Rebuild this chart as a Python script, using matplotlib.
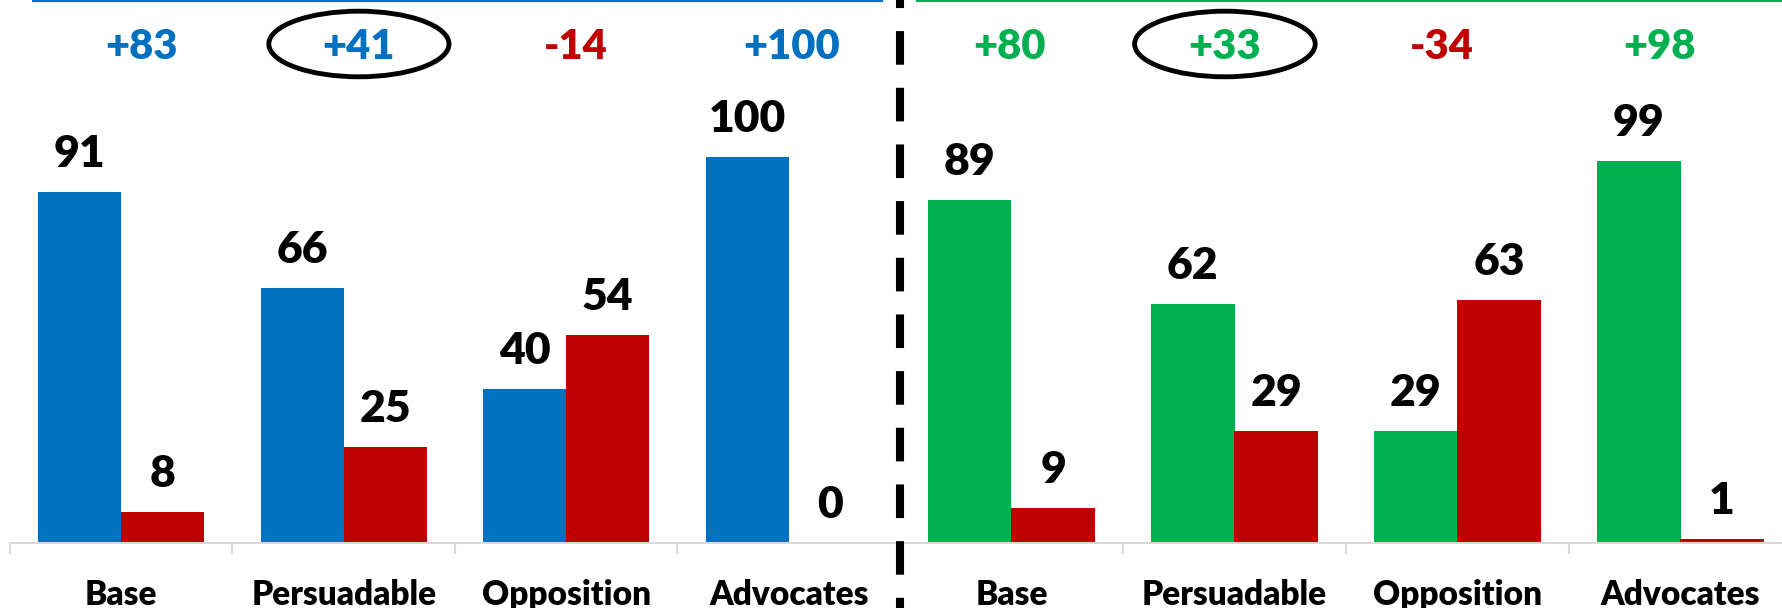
import numpy as np
import matplotlib
matplotlib.use('agg')
import matplotlib.pyplot as plt
from matplotlib.patches import Ellipse
from matplotlib.lines import Line2D

plt.rcParams['font.family'] = ['Lato', 'DejaVu Sans']
plt.rcParams['font.weight'] = 'heavy'
plt.rcParams['lines.scale_dashes'] = False

# data
categories = ['Base', 'Persuadable', 'Opposition', 'Advocates']
left_fav = [91, 66, 40, 100]
left_unfav = [8, 25, 54, 0]
left_diff = [83, 41, -14, 100]
right_fav = [89, 62, 29, 99]
right_unfav = [9, 29, 63, 1]
right_diff = [80, 33, -34, 98]

BLUE = '#0070C0'
RED = '#C00000'
GREEN = '#00B050'
GREY = '#D9D9D9'

W, H = 1783, 608
fig = plt.figure(figsize=(W / 100, H / 100), dpi=100)

bar_w = 0.373
ymax = 140.7
FW = 'heavy'


def draw_panel(ax, fav, unfav, diff, color, nudge, circled):
    x = np.arange(len(categories))
    ax.bar(x - bar_w / 2, fav, bar_w, color=color, zorder=2)
    ax.bar(x + bar_w / 2, unfav, bar_w, color=RED, zorder=2)
    for xi, v in zip(x - bar_w / 2, fav):
        ax.annotate(str(v), (xi, v), xytext=(0, 18), textcoords='offset points',
                    ha='center', va='baseline', fontsize=32, fontweight=FW)
    for xi, v in zip(x + bar_w / 2, unfav):
        ax.annotate(str(v), (xi, v), xytext=(0, 18), textcoords='offset points',
                    ha='center', va='baseline', fontsize=32, fontweight=FW)
    for i, d in enumerate(diff):
        ax.text(i + nudge[i], 125.4, '{:+d}'.format(d), ha='center', va='baseline',
                fontsize=30, fontweight=FW, color=color if d > 0 else RED)
    ell = Ellipse((circled + nudge[circled], 129.3), 0.81, 17.0, fill=False,
                  ec='black', lw=3.5, clip_on=False, zorder=3)
    ax.add_patch(ell)

    ax.set_xlim(-0.5, 3.5)
    ax.set_ylim(0, ymax)
    for s in ['left', 'right', 'top']:
        ax.spines[s].set_visible(False)
    ax.spines['bottom'].set_color(GREY)
    ax.spines['bottom'].set_linewidth(1.5)
    ax.set_yticks([])
    ax.set_xticks(x)
    ax.set_xticklabels(categories, fontsize=24, fontweight=FW)
    ax.set_xticks(np.arange(-0.5, 4, 1), minor=True)
    ax.tick_params(axis='x', which='major', length=0, pad=26)
    ax.tick_params(axis='x', which='minor', length=8, width=1.5, color=GREY, direction='out')


ax1 = fig.add_axes([10 / W, 65 / H, 890 / W, 543 / H])
draw_panel(ax1, left_fav, left_unfav, left_diff, BLUE,
           [0.089, 0.068, 0.044, 0.015], 1)

ax2 = fig.add_axes([900 / W, 65 / H, 892 / W, 543 / H])
draw_panel(ax2, right_fav, right_unfav, right_diff, GREEN,
           [-0.011, -0.043, -0.07, -0.096], 1)

# header rules over each panel
fig.add_artist(Line2D([33 / W, 882 / W], [1 - 1 / H] * 2, transform=fig.transFigure,
                      color=BLUE, lw=1.5))
fig.add_artist(Line2D([917 / W, 1.0], [1 - 1 / H] * 2, transform=fig.transFigure,
                      color=GREEN, lw=1.5))

# dashed divider
fig.add_artist(Line2D([900 / W] * 2, [1, 0], transform=fig.transFigure, color='black',
                      lw=5.8, linestyle=(18.4, (24.2, 16.6)), zorder=5))

fig.savefig('out.png', dpi=100)
